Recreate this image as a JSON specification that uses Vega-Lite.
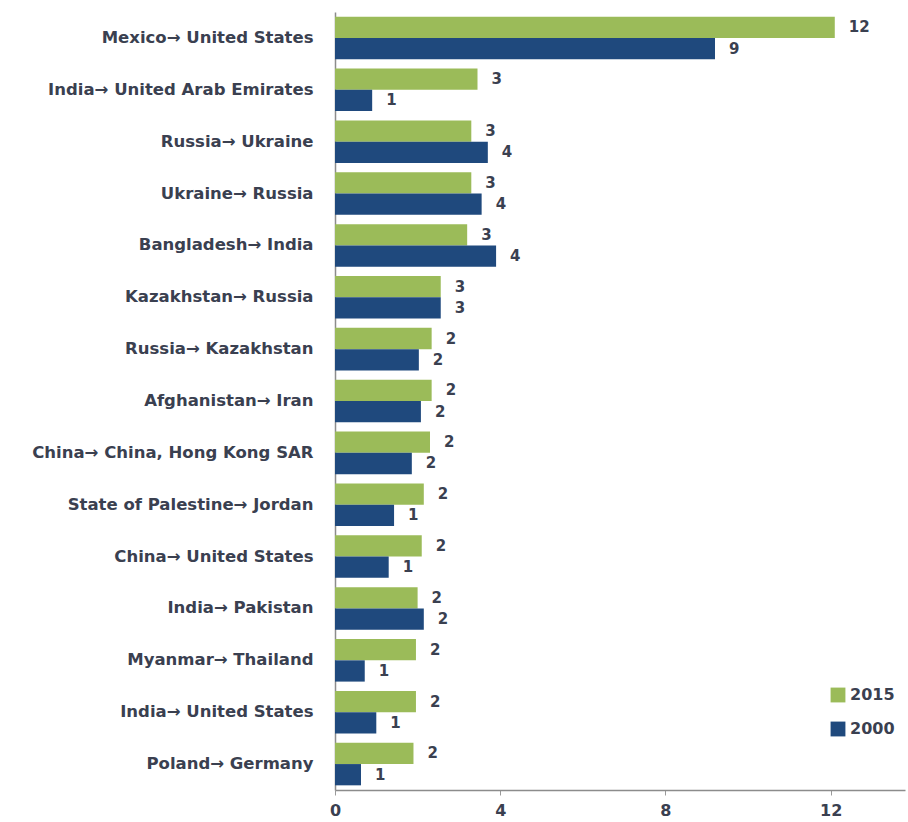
{
  "$schema": "https://vega.github.io/schema/vega-lite/v6.json",
  "width": 570,
  "height": 778,
  "autosize": {"type": "none"},
  "padding": {"left": 335, "top": 12, "right": 3, "bottom": 32},
  "background": "white",
  "config": {
    "view": {"stroke": null},
    "font": "DejaVu Sans"
  },
  "data": {
    "values": [
      {"corridor": "Mexico→ United States", "year": "2015", "value": 12.1},
      {"corridor": "Mexico→ United States", "year": "2000", "value": 9.2},
      {"corridor": "India→ United Arab Emirates", "year": "2015", "value": 3.45},
      {"corridor": "India→ United Arab Emirates", "year": "2000", "value": 0.9},
      {"corridor": "Russia→ Ukraine", "year": "2015", "value": 3.3},
      {"corridor": "Russia→ Ukraine", "year": "2000", "value": 3.7},
      {"corridor": "Ukraine→ Russia", "year": "2015", "value": 3.3},
      {"corridor": "Ukraine→ Russia", "year": "2000", "value": 3.55},
      {"corridor": "Bangladesh→ India", "year": "2015", "value": 3.2},
      {"corridor": "Bangladesh→ India", "year": "2000", "value": 3.9},
      {"corridor": "Kazakhstan→ Russia", "year": "2015", "value": 2.56},
      {"corridor": "Kazakhstan→ Russia", "year": "2000", "value": 2.56},
      {"corridor": "Russia→ Kazakhstan", "year": "2015", "value": 2.34},
      {"corridor": "Russia→ Kazakhstan", "year": "2000", "value": 2.03},
      {"corridor": "Afghanistan→ Iran", "year": "2015", "value": 2.34},
      {"corridor": "Afghanistan→ Iran", "year": "2000", "value": 2.08},
      {"corridor": "China→ China, Hong Kong SAR", "year": "2015", "value": 2.3},
      {"corridor": "China→ China, Hong Kong SAR", "year": "2000", "value": 1.86},
      {"corridor": "State of Palestine→ Jordan", "year": "2015", "value": 2.15},
      {"corridor": "State of Palestine→ Jordan", "year": "2000", "value": 1.43},
      {"corridor": "China→ United States", "year": "2015", "value": 2.1},
      {"corridor": "China→ United States", "year": "2000", "value": 1.3},
      {"corridor": "India→ Pakistan", "year": "2015", "value": 2.0},
      {"corridor": "India→ Pakistan", "year": "2000", "value": 2.15},
      {"corridor": "Myanmar→ Thailand", "year": "2015", "value": 1.96},
      {"corridor": "Myanmar→ Thailand", "year": "2000", "value": 0.72},
      {"corridor": "India→ United States", "year": "2015", "value": 1.96},
      {"corridor": "India→ United States", "year": "2000", "value": 1.0},
      {"corridor": "Poland→ Germany", "year": "2015", "value": 1.9},
      {"corridor": "Poland→ Germany", "year": "2000", "value": 0.63}
    ]
  },
  "encoding": {
    "y": {
      "field": "corridor",
      "type": "nominal",
      "sort": null,
      "scale": {"paddingInner": 0.18, "paddingOuter": 0.09},
      "axis": {
        "title": null,
        "ticks": false,
        "labelPadding": 22,
        "labelFontSize": 16.5,
        "labelFontWeight": "bold",
        "labelLimit": 340,
        "labelColor": "#3a4050",
        "domainColor": "#8c8c8c",
        "domainWidth": 1.5
      }
    },
    "yOffset": {
      "field": "year",
      "type": "nominal",
      "sort": ["2015", "2000"],
      "scale": {"domain": ["2015", "2000"], "paddingInner": 0}
    },
    "x": {
      "field": "value",
      "type": "quantitative",
      "scale": {"domain": [0, 13.8], "nice": false},
      "axis": {
        "title": null,
        "values": [0, 4, 8, 12],
        "format": "d",
        "grid": false,
        "tickSize": 5,
        "tickColor": "#9a9a9a",
        "domainColor": "#8c8c8c",
        "domainWidth": 1.5,
        "labelFontSize": 16,
        "labelFontWeight": "bold",
        "labelColor": "#3a4050",
        "labelPadding": 7,
        "labelFlush": false
      }
    }
  },
  "layer": [
    {
      "mark": {"type": "bar"},
      "encoding": {
        "color": {
          "field": "year",
          "type": "nominal",
          "scale": {"domain": ["2015", "2000"], "range": ["#9bbb59", "#1f497d"]},
          "legend": {
            "title": null,
            "orient": "none",
            "legendX": 495,
            "legendY": 675,
            "symbolType": "square",
            "symbolSize": 220,
            "symbolStrokeWidth": 0,
            "labelFontSize": 16,
            "labelFontWeight": "bold",
            "labelColor": "#3a4050",
            "rowPadding": 18,
            "labelOffset": 4
          }
        }
      }
    },
    {
      "mark": {"type": "text", "align": "left", "baseline": "middle", "dx": 14, "fontSize": 15, "fontWeight": "bold", "color": "#3a4050"},
      "encoding": {
        "text": {"field": "value", "type": "quantitative", "format": ".0f"}
      }
    }
  ]
}
